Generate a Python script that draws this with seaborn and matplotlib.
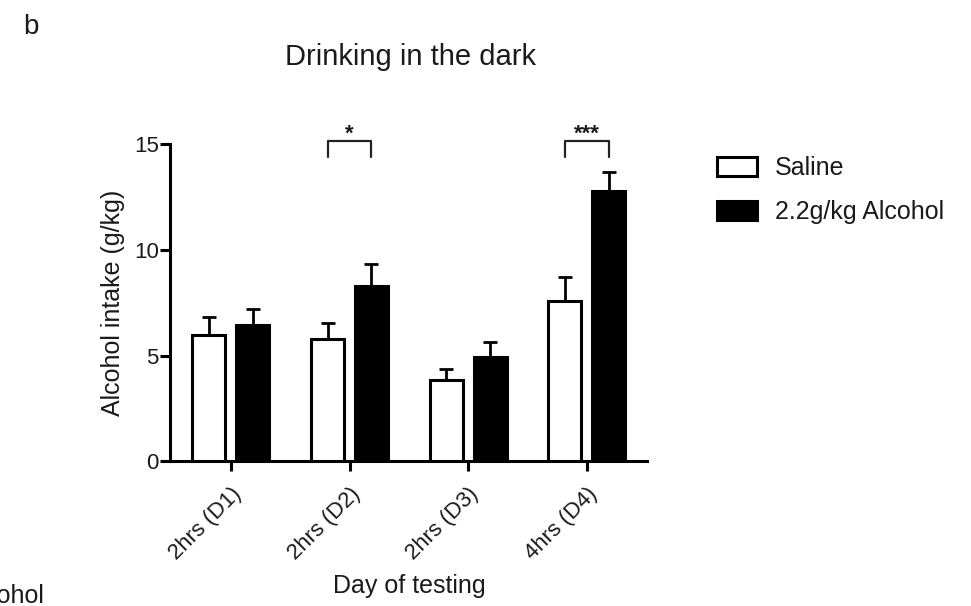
import matplotlib
matplotlib.use("Agg")
import matplotlib.pyplot as plt
import seaborn as sns
import pandas as pd
import numpy as np
from matplotlib.patches import Patch

# Mean alcohol intake (g/kg) with SEM per test session
days = ["2hrs (D1)", "2hrs (D2)", "2hrs (D3)", "4hrs (D4)"]
groups = ["Saline", "2.2g/kg Alcohol"]
saline_mean = [5.95, 5.8, 3.85, 7.6]
saline_sem = [0.85, 0.75, 0.5, 1.1]
alcohol_mean = [6.45, 8.3, 4.95, 12.8]
alcohol_sem = [0.75, 1.05, 0.7, 0.9]
# Significance marks: (day index, label)
sig_marks = [(1, "*"), (3, "***")]

sns.set_theme(style="white")
plt.rcParams["font.family"] = ["Liberation Sans", "DejaVu Sans"]
TXT = "#1a1a1a"

df = pd.DataFrame({
    "day": days * 2,
    "group": [groups[0]] * len(days) + [groups[1]] * len(days),
    "intake": saline_mean + alcohol_mean,
})

fig = plt.figure(figsize=(9.71, 6.06), dpi=100)
ax = fig.add_axes([0.175, 0.239, 0.491, 0.523])

sns.barplot(data=df, x="day", y="intake", hue="group", order=days,
            hue_order=groups, palette=["white", "black"], width=0.74,
            gap=0.25, edgecolor="black", linewidth=2.2, errorbar=None,
            legend=False, ax=ax, zorder=3)

# one-sided SEM bars on top of each column
sems = [saline_sem, alcohol_sem]
centers = []
for cont, sem in zip(ax.containers, sems):
    xs = [b.get_x() + b.get_width() / 2 for b in cont]
    hs = [b.get_height() for b in cont]
    centers.append(xs)
    ax.errorbar(xs, hs, yerr=[np.zeros(len(sem)), sem], fmt="none",
                ecolor="black", elinewidth=2.0, capsize=5, capthick=2.0,
                zorder=2)

# significance brackets
for idx, label in sig_marks:
    x0, x1 = centers[0][idx], centers[1][idx]
    ax.plot([x0, x0, x1, x1], [14.4, 15.15, 15.15, 14.4], color="#222222",
            lw=1.6, clip_on=False)
    ax.text((x0 + x1) / 2, 15.2, label, ha="center", va="baseline",
            fontsize=16, fontweight="bold", color=TXT, clip_on=False)

ax.set_xlim(-0.514, 3.505)
ax.set_ylim(0, 15)
ax.set_yticks([0, 5, 10, 15])
ax.set_xticks(range(len(days)))
ax.set_xticklabels(days, rotation=45, ha="right", rotation_mode="anchor")
sns.despine(ax=ax)
for s in ["left", "bottom"]:
    ax.spines[s].set_linewidth(2.2)
    ax.spines[s].set_color("black")
ax.tick_params(axis="both", direction="out", length=7, width=2.2,
               color="black", labelsize=16, labelcolor=TXT,
               left=True, bottom=True)
ax.tick_params(axis="y", pad=1)
ax.tick_params(axis="x", pad=9)

ax.set_xlabel("Day of testing", fontsize=18, color=TXT)
ax.xaxis.set_label_coords(0.503, -0.355)
ax.set_ylabel("Alcohol intake (g/kg)", fontsize=18, color=TXT)
ax.yaxis.set_label_coords(-0.094, 0.5)

fig.text(410 / 971, 1 - 57 / 606, "Drinking in the dark", fontsize=21,
         color=TXT, ha="center", va="center")

handles = [Patch(facecolor="white", edgecolor="black", linewidth=2.2),
           Patch(facecolor="black", edgecolor="black", linewidth=2.2)]
fig.legend(handles, groups, loc="upper left", bbox_to_anchor=(0.738, 0.742),
           frameon=False, fontsize=18, handlelength=1.6, handleheight=0.76,
           labelspacing=0.8, handletextpad=0.72, borderpad=0,
           borderaxespad=0, labelcolor=TXT)

fig.text(31 / 971, 1 - 27 / 606, "b", fontsize=20, color=TXT, ha="center",
         va="center")
fig.text(45 / 971, 1 - 603 / 606, "Alcohol", fontsize=18, color=TXT,
         ha="right", va="baseline")

fig.savefig("out.png", dpi=100, facecolor="white")
